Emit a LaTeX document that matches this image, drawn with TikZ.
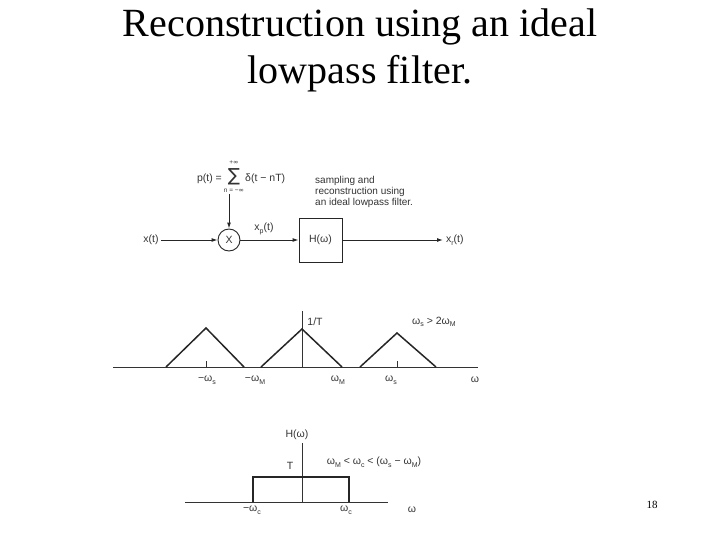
\documentclass[tikz,border=0pt]{standalone}
\usepackage{fontspec}
\setmainfont{Liberation Serif}
\newfontfamily\labfont{Liberation Sans}
\newfontfamily\symfont{DejaVu Sans}
\newcommand{\sbs}[1]{\raisebox{-0.45ex}{\fontsize{7}{7}\selectfont #1}}
\usetikzlibrary{arrows.meta}
\begin{document}
\begin{tikzpicture}[x=1pt,y=-1pt,
  lab/.style={font=\labfont\fontsize{10.5}{12}\selectfont, text=black!80, inner sep=0pt},
  sig/.style={draw=black!85, line width=1.1pt},
  arr/.style={draw=black!85, line width=1pt, -{Latex[length=6pt,width=4pt]}},
  ax/.style={draw=black!80, line width=0.7pt},
  tri/.style={draw=black!85, line width=1.5pt}]
\useasboundingbox (0,0) rectangle (720,540);
% title
\node[font=\fontsize{40}{46}\selectfont] (t1) at (360,27) {Reconstruction using an ideal};
\node[font=\fontsize{40}{46}\selectfont] (t2) at (360,74) {lowpass filter.};
% block diagram
\node[lab, anchor=east] (pt) at (222,179) {p(t) =};
\node[lab] (sum) at (234,177) {\symfont\fontsize{18}{18}\selectfont ∑};
\node[lab] (pinf) at (234,163) {\fontsize{6.5}{6.5}\selectfont +\symfont∞};
\node[lab] (nin) at (234,191) {\fontsize{6.5}{6.5}\selectfont n = −\symfont∞};
\node[lab, anchor=west] (del) at (245,179) {δ(t − nT)};
\coordinate (ptop) at (229,194);
\node[draw=black!85, line width=0.9pt, circle, minimum size=22pt, inner sep=0pt, lab] (mul) at (229,240) {X};
\node[lab, anchor=east, outer sep=2.5pt] (xt) at (161,240) {x(t)};
\node[draw=black!85, line width=0.9pt, minimum width=43pt, minimum height=44pt, lab] (H) at (320.5,240) {H(ω)};
\node[lab, anchor=west, outer sep=3pt] (xr) at (443,240) {x\sbs{r}(t)};
\node[lab] (xp) at (264,229) {x\sbs{p}(t)};
\node[lab, anchor=north west, align=left, font=\labfont\fontsize{10}{11}\selectfont] (desc) at (315,176) {sampling and\\reconstruction using\\an ideal lowpass filter.};
\draw[arr] (xt) -- (mul);
\draw[arr] (ptop) -- (mul);
\draw[arr] (mul) -- (H);
\draw[arr] (H) -- (xr);
% spectrum
\coordinate (a1) at (113,367); \coordinate (a2) at (478,367);
\draw[ax] (a1) -- (a2);
\coordinate (v1) at (302,311); \coordinate (v2) at (302,367);
\draw[ax] (v1) -- (v2);
\draw[tri] (166,367) -- (206,328) -- (244,367);
\draw[tri] (261,367) -- (302,329) -- (342,367);
\draw[tri] (360,367) -- (397,333) -- (436,367);
\draw[ax] (206,361) -- (206,367);
\draw[ax] (397,361) -- (397,367);
\node[lab] (l1) at (207,380) {−ω\sbs{s}};
\node[lab] (l2) at (255,380) {−ω\sbs{M}};
\node[lab] (l3) at (338,380) {ω\sbs{M}};
\node[lab] (l4) at (391,380) {ω\sbs{s}};
\node[lab] (l5) at (475,380) {ω};
\node[lab] (l6) at (315,322) {1/T};
\node[lab] (l7) at (434,322) {ω\sbs{s} > 2ω\sbs{M}};
% filter
\coordinate (b1) at (185,502); \coordinate (b2) at (388,502);
\draw[ax] (b1) -- (b2);
\coordinate (w1) at (302,443); \coordinate (w2) at (302,502);
\draw[ax] (w1) -- (w2);
\draw[sig] (253,502) -- (253,477) -- (349,477) -- (349,502);
\node[lab] (h1) at (297,435) {H(ω)};
\node[lab] (h2) at (290,466) {T};
\node[lab] (h3) at (374,462) {ω\sbs{M} < ω\sbs{c} < (ω\sbs{s} − ω\sbs{M})};
\node[lab] (h4) at (252,510) {−ω\sbs{c}};
\node[lab] (h5) at (346,510) {ω\sbs{c}};
\node[lab] (h6) at (412,510) {ω};
\node[font=\fontsize{11}{13}\selectfont] (num) at (652,505) {18};
\end{tikzpicture}
\end{document}
